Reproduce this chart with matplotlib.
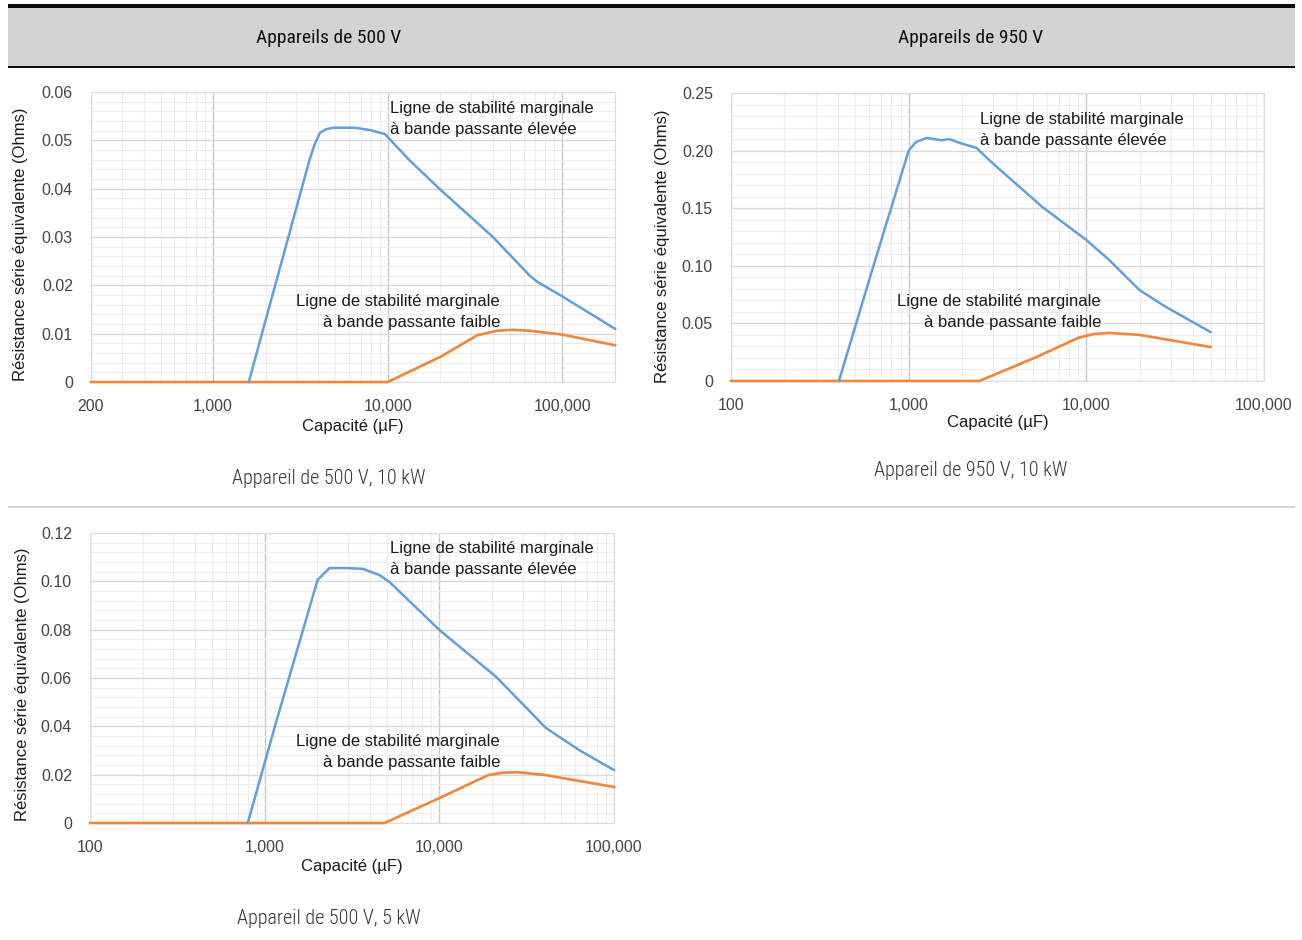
import matplotlib
matplotlib.use("Agg")
import matplotlib.pyplot as plt
from matplotlib.patches import Rectangle
from matplotlib.ticker import FixedLocator, NullFormatter, LogLocator, MultipleLocator

# ---------------- data ----------------
header_titles = ["Appareils de 500 V", "Appareils de 950 V"]
captions = ["Appareil de 500 V, 10 kW", "Appareil de 950 V, 10 kW", "Appareil de 500 V, 5 kW"]
x_title = "Capacité (µF)"
y_title = "Résistance série équivalente (Ohms)"
note_high = "Ligne de stabilité marginale\nà bande passante élevée"
note_low = "Ligne de stabilité marginale\nà bande passante faible"

# Chart 1 : 500 V, 10 kW
c1_xticks = [200, 1000, 10000, 100000]
c1_xticklabels = ["200", "1,000", "10,000", "100,000"]
c1_yticks = [0, 0.01, 0.02, 0.03, 0.04, 0.05, 0.06]
c1_yticklabels = ["0", "0.01", "0.02", "0.03", "0.04", "0.05", "0.06"]
c1_blue_x = [1600, 3560, 3800, 4080, 4430, 4870, 6500, 7960, 9630, 10100, 13300, 20000,
             40000, 65000, 72000, 100000, 200000]
c1_blue_y = [0, 0.0459, 0.0490, 0.0515, 0.0523, 0.0526, 0.0526, 0.0521, 0.0513, 0.0505,
             0.0459, 0.0398, 0.0300, 0.0220, 0.0207, 0.0177, 0.0110]
c1_orange_x = [200, 10000, 20000, 32700, 42000, 52000, 65000, 100000, 200000]
c1_orange_y = [0, 0, 0.0052, 0.0097, 0.0106, 0.0108, 0.0106, 0.0098, 0.0076]

# Chart 2 : 950 V, 10 kW
c2_xticks = [100, 1000, 10000, 100000]
c2_xticklabels = ["100", "1,000", "10,000", "100,000"]
c2_yticks = [0, 0.05, 0.10, 0.15, 0.20, 0.25]
c2_yticklabels = ["0", "0.05", "0.10", "0.15", "0.20", "0.25"]
c2_blue_x = [405, 628, 1000, 1100, 1260, 1530, 1700, 1940, 2410, 2970, 5660, 10000,
             13450, 19900, 28100, 50000]
c2_blue_y = [0, 0.098, 0.200, 0.2075, 0.211, 0.209, 0.210, 0.2066, 0.2023, 0.189, 0.151,
             0.1224, 0.105, 0.079, 0.0642, 0.0425]
c2_orange_x = [100, 2500, 5240, 9000, 11000, 13500, 20000, 50000]
c2_orange_y = [0, 0, 0.0208, 0.0375, 0.0408, 0.0417, 0.0400, 0.0295]

# Chart 3 : 500 V, 5 kW
c3_xticks = [100, 1000, 10000, 100000]
c3_xticklabels = ["100", "1,000", "10,000", "100,000"]
c3_yticks = [0, 0.02, 0.04, 0.06, 0.08, 0.10, 0.12]
c3_yticklabels = ["0", "0.02", "0.04", "0.06", "0.08", "0.10", "0.12"]
c3_blue_x = [800, 1172, 2010, 2350, 2940, 3630, 4540, 5190, 10000, 21200, 40800, 63100, 100000]
c3_blue_y = [0, 0.0426, 0.1006, 0.1055, 0.1055, 0.1052, 0.1026, 0.0997, 0.0799, 0.0604,
             0.0393, 0.0302, 0.0219]
c3_orange_x = [100, 4850, 10000, 19000, 23000, 28000, 40000, 100000]
c3_orange_y = [0, 0, 0.0103, 0.0198, 0.0208, 0.0210, 0.0199, 0.0149]

# ---------------- styling ----------------
W, H = 1302, 940
SANS = ["Liberation Sans", "DejaVu Sans"]
NARROW = ["Roboto Condensed", "Liberation Sans Narrow", "Liberation Sans", "DejaVu Sans"]
BLUE = "#62A0DB"
ORANGE = "#F0863C"

plt.rcParams["font.family"] = SANS
fig = plt.figure(figsize=(W / 100, H / 100), dpi=100)
fig.patch.set_facecolor("white")


def fx(px):
    return px / W


def fy(py):
    return 1 - py / H


def rect(x0, y0, x1, y1, color):
    fig.add_artist(Rectangle((fx(x0), fy(y1)), (x1 - x0) / W, (y1 - y0) / H,
                             transform=fig.transFigure, facecolor=color,
                             edgecolor="none", zorder=0))


# header band
rect(8, 4, 1295, 8, "#0a0a0a")
rect(8, 8, 1295, 66, "#d3d3d3")
rect(8, 66, 1295, 68, "#0a0a0a")
fig.text(fx(329), fy(38), header_titles[0], family=NARROW, fontsize=14,
         color="#111111", ha="center", va="center")
fig.text(fx(971), fy(38), header_titles[1], family=NARROW, fontsize=14,
         color="#111111", ha="center", va="center")
# row separator
rect(8, 506, 1295, 508, "#d6d6d6")


def make_chart(box, xlim, ylim, yminor, xticks, xticklabels, yticks, yticklabels,
               bx, by, ox, oy, ylab_px, xlab_py, high_pos, low_pos, cap_pos, caption):
    x0, y0, x1, y1 = box
    ax = fig.add_axes([fx(x0), fy(y1), (x1 - x0) / W, (y1 - y0) / H])
    ax.set_xscale("log")
    ax.set_xlim(xlim)
    ax.set_ylim(ylim)
    ax.xaxis.set_major_locator(FixedLocator(xticks))
    ax.set_xticklabels(xticklabels)
    ax.xaxis.set_minor_locator(LogLocator(base=10, subs=range(2, 10), numticks=30))
    ax.xaxis.set_minor_formatter(NullFormatter())
    ax.yaxis.set_major_locator(FixedLocator(yticks))
    ax.set_yticklabels(yticklabels)
    ax.yaxis.set_minor_locator(MultipleLocator(yminor))
    ax.tick_params(which="both", length=0)
    ax.tick_params(axis="x", pad=12, labelsize=11.5, labelcolor="#444444")
    ax.tick_params(axis="y", pad=13, labelsize=11.5, labelcolor="#444444")
    ax.grid(which="minor", axis="both", color="#ededed", lw=0.8)
    ax.grid(which="major", axis="y", color="#d9d9d9", lw=1.0)
    ax.grid(which="major", axis="x", color="#c9c9c9", lw=1.0)
    ax.set_axisbelow(True)
    for s in ax.spines.values():
        s.set_color("#dedede")
        s.set_linewidth(0.8)
    ax.plot(ox, oy, color=ORANGE, lw=1.9, clip_on=False, zorder=3)
    ax.plot(bx, by, color=BLUE, lw=1.8, clip_on=False, zorder=4)

    wpx, hpx = x1 - x0, y1 - y0
    ax.set_xlabel(x_title, fontsize=12, color="#1a1a1a", va="center")
    ax.xaxis.set_label_coords(0.5, (y1 - xlab_py) / hpx)
    ax.set_ylabel(y_title, fontsize=12, color="#1a1a1a", va="center")
    ax.yaxis.set_label_coords((ylab_px[0] - x0) / wpx, (y1 - ylab_px[1]) / hpx)

    fig.text(fx(high_pos[0]), fy(high_pos[1]), note_high, fontsize=12, color="#1a1a1a",
             ha="left", va="center", multialignment="left", linespacing=1.45)
    fig.text(fx(low_pos[0]), fy(low_pos[1]), note_low, fontsize=12, color="#1a1a1a",
             ha="right", va="center", multialignment="right", linespacing=1.45)
    fig.text(fx(cap_pos[0]), fy(cap_pos[1]), caption, family=NARROW, fontsize=14.5,
             fontweight="light", color="#333333", ha="center", va="center")
    return ax


make_chart((91, 92, 615, 382), (200, 200000), (0, 0.06), 0.002,
           c1_xticks, c1_xticklabels, c1_yticks, c1_yticklabels,
           c1_blue_x, c1_blue_y, c1_orange_x, c1_orange_y,
           (21, 244), 426, (390, 119), (500, 312), (329, 478), captions[0])

make_chart((731, 93, 1264, 381), (100, 100000), (0, 0.25), 0.01,
           c2_xticks, c2_xticklabels, c2_yticks, c2_yticklabels,
           c2_blue_x, c2_blue_y, c2_orange_x, c2_orange_y,
           (662, 246), 423, (980, 130), (1101, 312), (971, 471), captions[1])

make_chart((90, 533, 614, 823), (100, 100000), (0, 0.12), 0.004,
           c3_xticks, c3_xticklabels, c3_yticks, c3_yticklabels,
           c3_blue_x, c3_blue_y, c3_orange_x, c3_orange_y,
           (22, 684), 866, (390, 559), (500, 752), (329, 918), captions[2])

fig.savefig("out.png", dpi=100, facecolor="white")
